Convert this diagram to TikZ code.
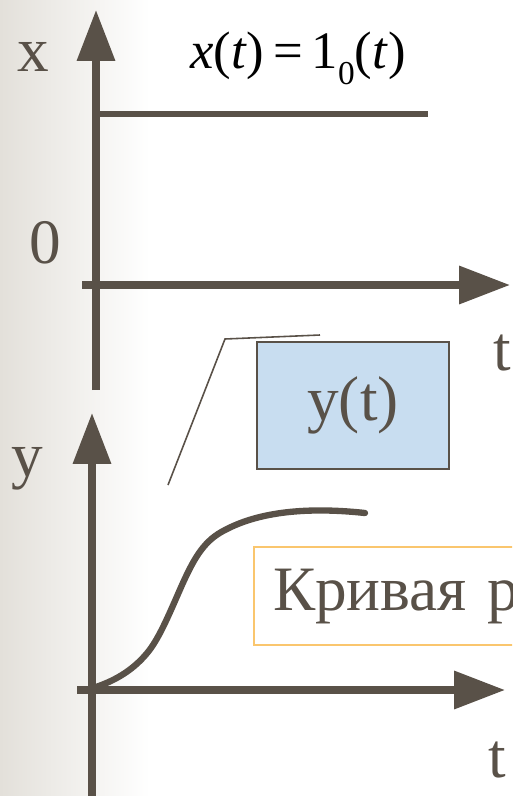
\documentclass[tikz,border=0pt]{standalone}
\usepackage{fontspec}
\setmainfont{Liberation Serif}
\usetikzlibrary{arrows.meta,positioning}

\definecolor{axisgray}{HTML}{595148}
\definecolor{boxblue}{HTML}{C8DDF0}
\definecolor{boxorange}{HTML}{FAC66E}
\definecolor{bggray}{HTML}{E3E0DA}

\tikzset{
  axis/.style={draw=axisgray, line width=4pt, -{Triangle[length=29pt,width=21pt]}},
  graph/.style={draw=axisgray, line width=3.6pt},
  lbl/.style={text=axisgray, font=\fontsize{36}{40}\selectfont, inner sep=0pt, anchor=base},
}

\begin{document}
\begin{tikzpicture}[x=0.02cm, y=-0.02cm]

    % Frame and background
    \clip (0,0) rectangle (512,796);
    \useasboundingbox (0,0) rectangle (512,796);
    \shade[left color=bggray, right color=white] (0,0) rectangle (150,796);

    % Input x(t)
    \coordinate (xbot) at (96,390);
    \coordinate (xtop) at (96,10);
    \coordinate (xleft) at (82,285);
    \coordinate (xright) at (510,285);
    \coordinate (stepA) at (96,114);
    \coordinate (stepB) at (428,114);

    \draw[axis] (xbot) -- (xtop);
    \draw[axis] (xleft) -- (xright);
    \draw[graph] (stepA) -- (stepB);

    \node (xlbl) [lbl] at (33,71) {x};
    \node (zero) [lbl] at (45,263) {0};
    \node (tlbl1) [lbl] at (502,370) {t};
    \node (xfun) [inner sep=0pt, anchor=base west, font=\fontsize{30}{32}\selectfont] at (190,68)
        {\textit{x}(\textit{t})\,=\,1\raisebox{-0.32em}{\fontsize{19}{20}\selectfont 0}(\textit{t})};

    % Output y(t)
    \coordinate (ybot) at (92,796);
    \coordinate (ytop) at (92,413);
    \coordinate (yleft) at (77,690);
    \coordinate (yright) at (505,690);

    \draw[axis] (ybot) -- (ytop);
    \draw[axis] (yleft) -- (yright);

    \node (ylbl) [lbl] at (27,476) {y};
    \node (tlbl2) [lbl] at (497,777) {t};

    % Response curve
    \draw[graph, line cap=round] (93,688) .. controls (118,680) and (135,668) .. (148,652)
        .. controls (160,637) and (170,612) .. (182,585)
        .. controls (195,556) and (205,540) .. (225,530)
        .. controls (255,514) and (300,506) .. (365,513);

    % Callout
    \node (ybox) [draw=axisgray, line width=1.2pt, fill=boxblue, minimum width=3.84cm, minimum height=2.54cm,
        text=axisgray, font=\fontsize{36}{40}\selectfont] at (353,405.5) {y(t)};
    \coordinate (callA) at (168,485);
    \coordinate (callB) at (225,339);
    \coordinate (callC) at (320,335);
    \draw[axisgray, line width=0.9pt] (callA) -- (callB) -- (callC);

    \node (curvename) [draw=boxorange, line width=1.2pt, anchor=north west, minimum height=1.96cm,
        text width=5cm, inner xsep=0.38cm, align=left, text=axisgray,
        font=\fontsize{36}{40}\selectfont] at (253,546) {Кривая р};

\end{tikzpicture}
\end{document}
